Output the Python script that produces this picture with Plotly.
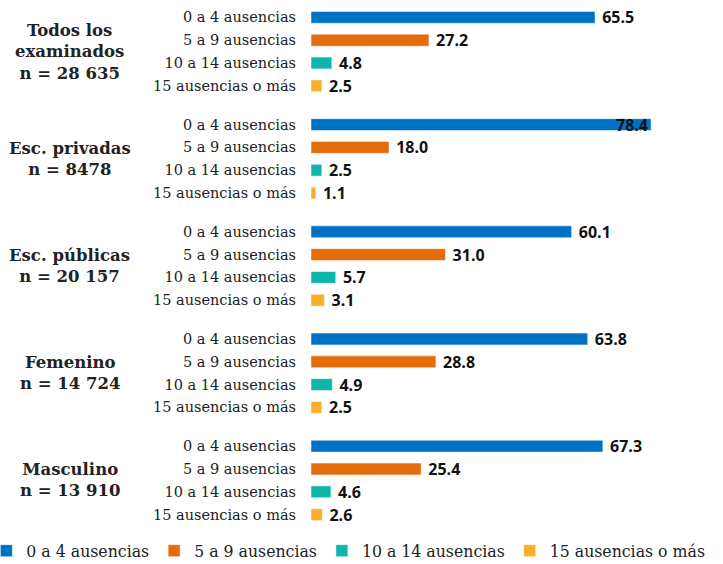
import plotly.graph_objects as go

groups = ["Todos los<br>examinados<br>n = 28 635", "Esc. privadas<br>n = 8478",
          "Esc. públicas<br>n = 20 157", "Femenino<br>n = 14 724", "Masculino<br>n = 13 910"]
series = ["0 a 4 ausencias", "5 a 9 ausencias", "10 a 14 ausencias", "15 ausencias o más"]
values = {
    "0 a 4 ausencias": [65.5, 78.4, 60.1, 63.8, 67.3],
    "5 a 9 ausencias": [27.2, 18.0, 31.0, 28.8, 25.4],
    "10 a 14 ausencias": [4.8, 2.5, 5.7, 4.9, 4.6],
    "15 ausencias o más": [2.5, 1.1, 3.1, 2.5, 2.6],
}
colors = ["#0072C6", "#E46C0A", "#0FB5A6", "#FAAE2B"]

SLAB = "DejaVu Serif, serif"
SLAB_COND = "DejaVu Serif Condensed, DejaVu Serif, serif"
GAP = 4.7  # group step in row units

fig = go.Figure()
tickvals, ticktext = [], []
for i, s in enumerate(series):
    ys = [g * GAP + i for g in range(len(groups))]
    tickvals += ys
    ticktext += [s] * len(groups)
    vals = values[s]
    inside = [v > 75 for v in vals]
    fig.add_trace(go.Bar(
        x=vals, y=ys, orientation="h", name=s, width=0.52,
        marker=dict(color=colors[i], line=dict(color="rgba(255,255,255,0.5)", width=1)),
        text=[f"{v:.1f}" if ins else f"\u00a0{v:.1f}" for v, ins in zip(vals, inside)],
        textposition=["inside" if ins else "outside" for ins in inside],
        insidetextanchor="end", constraintext="none",
        textfont=dict(family="Open Sans", size=16, color="#111"),
        texttemplate="<b>%{text}</b>",
        cliponaxis=False, hoverinfo="skip",
    ))

for g, label in enumerate(groups):
    fig.add_annotation(
        x=-0.585, xref="paper", xanchor="center", y=g * GAP + 1.5, yref="y",
        text=f"<b>{label}</b>", showarrow=False, align="center",
        font=dict(family=SLAB, size=16.5, color="#222"),
    )

fig.update_layout(
    width=723, height=564,
    margin=dict(l=311, r=0, t=6, b=38, autoexpand=False),
    plot_bgcolor="white", paper_bgcolor="white",
    barmode="overlay", showlegend=True, hovermode=False,
    xaxis=dict(range=[0, 95], visible=False),
    yaxis=dict(range=[(len(groups) - 1) * GAP + 3.5, -0.5], tickvals=tickvals, ticktext=ticktext,
               tickfont=dict(family=SLAB, size=14.5, color="#222"), showgrid=False,
               zeroline=False, showline=False, ticklabelstandoff=14),
    legend=dict(orientation="h", x=-0.788, xanchor="left", y=-0.013, yanchor="top",
                font=dict(family=SLAB_COND, size=17.5, color="#222"), traceorder="normal",
                itemwidth=30),
)

fig.write_html("out.html", config={"displayModeBar": False},
               post_script="document.body.style.margin='0';")
